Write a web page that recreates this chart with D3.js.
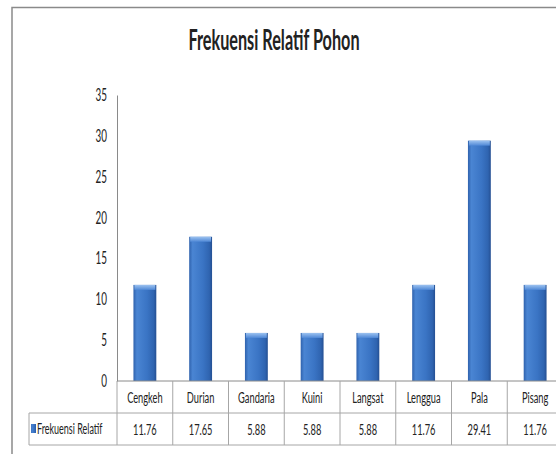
<!DOCTYPE html>
<html>
<head>
<meta charset="utf-8">
<script src="https://cdn.jsdelivr.net/npm/d3@7"></script>
<style>
body { margin: 0; background: #fff; }
text { font-family: Lato, "Open Sans", sans-serif; fill: #222; }
</style>
</head>
<body>
<div id="chart"></div>
<script>
// data
var categories = ["Cengkeh", "Durian", "Gandaria", "Kuini", "Langsat", "Lenggua", "Pala", "Pisang"];
var values = [11.76, 17.65, 5.88, 5.88, 5.88, 11.76, 29.41, 11.76];
var yTicks = [0, 5, 10, 15, 20, 25, 30, 35];
var seriesName = "Frekuensi Relatif";
var chartTitle = "Frekuensi Relatif Pohon";

var width = 556, height = 454;
var SX = 0.58; // the original is squeezed horizontally
var plotLeft = 117, plotRight = 563, plotTop = 95, plotBottom = 381;
var rowH = 32;

var svg = d3.select("#chart")
    .append("svg")
    .attr("width", width)
    .attr("height", height);

var defs = svg.append("defs");
var bodyGrad = defs.append("linearGradient").attr("id", "barBody")
    .attr("x1", "0").attr("x2", "1").attr("y1", "0").attr("y2", "0");
bodyGrad.append("stop").attr("offset", "0").attr("stop-color", "#2f62ad");
bodyGrad.append("stop").attr("offset", "0.15").attr("stop-color", "#4a85d3");
bodyGrad.append("stop").attr("offset", "0.6").attr("stop-color", "#3a74c4");
bodyGrad.append("stop").attr("offset", "0.88").attr("stop-color", "#2f64b0");
bodyGrad.append("stop").attr("offset", "1").attr("stop-color", "#244f92");
var capGrad = defs.append("linearGradient").attr("id", "barCap")
    .attr("x1", "0").attr("x2", "0").attr("y1", "0").attr("y2", "1");
capGrad.append("stop").attr("offset", "0").attr("stop-color", "#9cc2f0");
capGrad.append("stop").attr("offset", "1").attr("stop-color", "#4f88d6");

// outer chart border
svg.append("path")
    .attr("d", "M12," + height + "V7.5H" + width)
    .attr("fill", "none")
    .attr("stroke", "#8a8a8a")
    .attr("stroke-width", 1.5);

// title
svg.append("g")
    .attr("transform", "translate(274,50)")
    .append("text")
    .attr("transform", "scale(" + SX + ",1)")
    .attr("text-anchor", "middle")
    .style("font-size", "28px")
    .style("font-weight", "bold")
    .text(chartTitle);

var x = d3.scaleBand()
    .domain(categories)
    .range([plotLeft, plotRight])
    .paddingInner(0.59)
    .paddingOuter(0.295);

var xCol = d3.scaleBand()
    .domain(categories)
    .range([plotLeft, plotRight])
    .padding(0);

var y = d3.scaleLinear()
    .domain([0, 35])
    .range([plotBottom, plotTop]);

// y axis
var yAxis = svg.append("g")
    .attr("transform", "translate(" + plotLeft + ",0)")
    .call(d3.axisLeft(y).tickValues(yTicks).tickSize(0).tickPadding(10));
yAxis.select(".domain").attr("stroke", "#8a8a8a");
yAxis.selectAll("text")
    .attr("x", -10 / SX)
    .attr("transform", "scale(" + SX + ",1)")
    .style("font-family", "Lato, 'Open Sans', sans-serif")
    .style("font-size", "17px")
    .style("fill", "#222");

// bars
var bars = svg.append("g").selectAll("g")
    .data(values)
    .enter()
    .append("g");

bars.append("rect")
    .attr("x", function(d, i) { return x(categories[i]); })
    .attr("y", function(d) { return y(d); })
    .attr("width", x.bandwidth())
    .attr("height", function(d) { return y(0) - y(d); })
    .attr("fill", "url(#barBody)");

bars.append("rect")
    .attr("x", function(d, i) { return x(categories[i]) + 1; })
    .attr("y", function(d) { return y(d); })
    .attr("width", x.bandwidth() - 2)
    .attr("height", 5)
    .attr("fill", "url(#barCap)");

// data table
var table = svg.append("g");
var lineColor = "#a6a6a6";

table.append("line")
    .attr("x1", plotLeft).attr("x2", plotRight)
    .attr("y1", plotBottom).attr("y2", plotBottom)
    .attr("stroke", "#8a8a8a");
[plotBottom + rowH, plotBottom + 2 * rowH].forEach(function(yy) {
    table.append("line")
        .attr("x1", 29).attr("x2", plotRight)
        .attr("y1", yy).attr("y2", yy)
        .attr("stroke", lineColor);
});
table.append("line")
    .attr("x1", 29).attr("x2", 29)
    .attr("y1", plotBottom + rowH).attr("y2", plotBottom + 2 * rowH)
    .attr("stroke", lineColor);
table.append("line")
    .attr("x1", plotLeft).attr("x2", plotLeft)
    .attr("y1", plotBottom).attr("y2", plotBottom + 2 * rowH)
    .attr("stroke", lineColor);

table.selectAll(".divider")
    .data(categories)
    .enter()
    .append("line")
    .attr("class", "divider")
    .attr("x1", function(d) { return xCol(d) + xCol.bandwidth(); })
    .attr("x2", function(d) { return xCol(d) + xCol.bandwidth(); })
    .attr("y1", plotBottom)
    .attr("y2", plotBottom + 2 * rowH)
    .attr("stroke", lineColor);

// category row
table.selectAll(".cat")
    .data(categories)
    .enter()
    .append("g")
    .attr("class", "cat")
    .attr("transform", function(d) { return "translate(" + (xCol(d) + xCol.bandwidth() / 2) + "," + (plotBottom + rowH / 2) + ")"; })
    .append("text")
    .attr("transform", "scale(" + SX + ",1)")
    .attr("text-anchor", "middle")
    .attr("dy", "0.35em")
    .style("font-size", "16px")
    .text(function(d) { return d; });

// value row
table.selectAll(".val")
    .data(values)
    .enter()
    .append("g")
    .attr("class", "val")
    .attr("transform", function(d, i) { return "translate(" + (xCol(categories[i]) + xCol.bandwidth() / 2) + "," + (plotBottom + rowH * 1.5) + ")"; })
    .append("text")
    .attr("transform", "scale(" + SX + ",1)")
    .attr("text-anchor", "middle")
    .attr("dy", "0.35em")
    .style("font-size", "16px")
    .text(function(d) { return d.toFixed(2); });

// legend key in the table
table.append("rect")
    .attr("x", 31)
    .attr("y", plotBottom + rowH * 1.5 - 5)
    .attr("width", 5)
    .attr("height", 9)
    .attr("fill", "url(#barBody)");
table.append("g")
    .attr("transform", "translate(37," + (plotBottom + rowH * 1.5) + ")")
    .append("text")
    .attr("transform", "scale(" + SX + ",1)")
    .attr("dy", "0.35em")
    .style("font-size", "15.5px")
    .text(seriesName);
</script>
</body>
</html>
